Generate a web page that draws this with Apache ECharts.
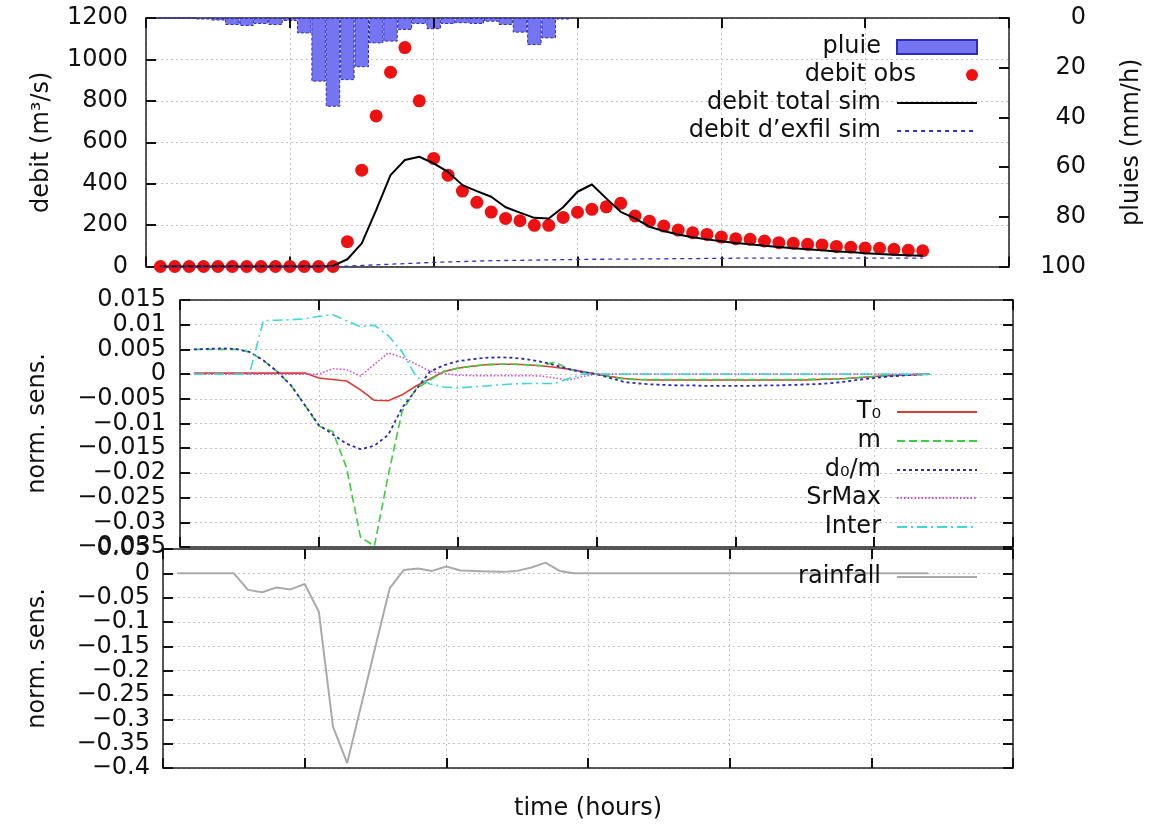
<!DOCTYPE html>
<html>
<head>
  <meta charset="utf-8">
  <script src="https://cdn.jsdelivr.net/npm/echarts@6/dist/echarts.min.js"></script>
  <style>
    html, body { margin: 0; padding: 0; background: #fff; }
  </style>
</head>
<body>
  <div id="id_chart" style="width: 1152px; height: 827px;"></div>

  <script type="text/javascript">
    // pas de temps (heures)
    var steps = [1, 2, 3, 4, 5, 6, 7, 8, 9, 10, 11, 12, 13, 14, 15, 16, 17, 18,
      19, 20, 21, 22, 23, 24, 25, 26, 27, 28, 29, 30, 31, 32, 33, 34, 35, 36,
      37, 38, 39, 40, 41, 42, 43, 44, 45, 46, 47, 48, 49, 50, 51, 52, 53, 54];

    // panneau 1 : debits (m3/s) et pluie (mm/h)
    var debitObs = [0, 0, 0, 0, 0, 0, 0, 0, 0, 0, 0, 0, 0,
      120, 465, 727, 938, 1057, 800, 522, 441, 364, 310,
      263, 232, 221, 199, 199, 237, 262, 276, 288, 305,
      244, 219, 195, 176, 163, 155, 142, 134, 131, 123,
      115, 112, 107, 104, 97, 93, 89, 88, 83, 78, 76];
    var debitSim = [0, 0, 0, 0, 0, 0, 0, 0, 0, 0, 0, 0, 3,
      35, 112, 272, 441, 514, 530, 498, 457, 393, 364,
      337, 286, 260, 235, 232, 286, 361, 396, 329, 264,
      232, 192, 171, 155, 141, 131, 122, 113, 107, 100,
      94, 88, 83, 78, 73, 70, 64, 60, 57, 54, 52];
    var debitExfil = [0, 0, 0, 0, 0, 0, 0, 0, 0, 0, 0, 0, 0,
      2, 5, 8, 11, 14, 17, 20, 22, 24, 26,
      28, 29, 30, 31, 32, 33, 34, 35, 35, 36,
      36, 37, 37, 38, 38, 39, 39, 40, 40, 40,
      40, 40, 40, 40, 40, 40, 40, 40, 40, 40, 40];
    var pluie = [0, 0, 0, 0.6, 1, 2.8, 3.2, 2.4, 2.8, 1.2, 6.2, 25.6, 35.7, 25,
      19.8, 10.2, 9.5, 4.8, 2.4, 4.5, 2.4, 2.1, 2.4, 1.5, 2.8, 5.9, 10.9, 8.2, 0.6];

    // panneau 2 : sensibilites normalisees
    var sensT0 = [0.0002, 0.0002, 0.0002, 0.0002, 0.0002, 0.0002, 0.0002, 0.0002, 0.0002,
      -0.0008, -0.0011, -0.0014, -0.0032, -0.0053, -0.0054, -0.0042, -0.0024, -0.0010,
      0.0005, 0.0012, 0.0016, 0.0019, 0.0020, 0.0020, 0.0019, 0.0017, 0.0014, 0.0010, 0.0005, 0,
      -0.0005, -0.0009, -0.0011,
      -0.0012, -0.0012, -0.0012, -0.0012, -0.0012, -0.0012, -0.0012, -0.0012, -0.0012, -0.0012, -0.0012, -0.0012,
      -0.0011, -0.0010, -0.0009, -0.0007, -0.0005, -0.0003, -0.0002, -0.0001, 0];
    var sensM = [0.005, 0.005, 0.005, 0.005,
      0.0045, 0.0028, 0.0005, -0.0023, -0.0063, -0.0105, -0.0116, -0.0190, -0.0330, -0.0348, -0.0205, -0.0075, -0.0030, -0.0012,
      0.0005, 0.0012, 0.0016, 0.0019, 0.0020, 0.0020, 0.0019, 0.0017, 0.0024, 0.0010, 0.0004, 0,
      -0.0006, -0.0010, -0.0011,
      -0.0011, -0.0011, -0.0011, -0.0011, -0.0011, -0.0011, -0.0011, -0.0011, -0.0011, -0.0011, -0.0011, -0.0011,
      -0.0010, -0.0010, -0.0009, -0.0007, -0.0005, -0.0003, -0.0002, -0.0001, 0];
    var sensD0m = [0.0050, 0.0051, 0.0052, 0.0051,
      0.0045, 0.0028, 0.0005, -0.0023, -0.0063, -0.0103, -0.0122, -0.0141, -0.0152, -0.0145, -0.0123, -0.0068, -0.0032, 0.0005,
      0.0018, 0.0026, 0.0030, 0.0033, 0.0034, 0.0033, 0.0030, 0.0025, 0.0018, 0.0010, 0.0004, 0,
      -0.0008, -0.0016, -0.0019,
      -0.0021, -0.0022, -0.0023, -0.0023, -0.0024, -0.0024, -0.0024, -0.0024, -0.0023, -0.0023, -0.0022, -0.0021,
      -0.0020, -0.0018, -0.0015, -0.0011, -0.0008, -0.0005, -0.0003, -0.0001, 0];
    var sensSrMax = [0, 0, 0, 0, 0, 0, 0, 0, 0, 0,
      0.0011, 0.0009, -0.0004, 0.0020, 0.0043, 0.0034, 0.0020, 0.0006, 0.0001, -0.0002,
      -0.0003, -0.0003, -0.0003, -0.0003, -0.0003, -0.0004, -0.0008, -0.0012, -0.0005, 0,
      0, 0, 0, 0, 0, 0, 0, 0, 0, 0, 0, 0, 0, 0, 0, 0, 0, 0, 0, 0, 0, 0, 0, 0];
    var sensInter = [0, 0, 0, 0, 0,
      0.0108, 0.0109, 0.0110, 0.0112, 0.0117, 0.0120, 0.0108, 0.0096, 0.0099, 0.0078, 0.0045, -0.0005,
      -0.0020, -0.0026, -0.0028, -0.0026, -0.0024, -0.0022, -0.0020, -0.0019, -0.0019, -0.0019, -0.0009, 0,
      0, 0, 0, 0, 0, 0, 0, 0, 0, 0, 0, 0, 0, 0, 0, 0, 0, 0, 0, 0, 0, 0, 0, 0, 0];

    // panneau 3 : sensibilite a la pluie
    var sensRain = [0, 0, 0, 0, 0,
      -0.034, -0.039, -0.029, -0.033, -0.022, -0.079, -0.315, -0.39, -0.27, -0.15, -0.031,
      0.007, 0.010, 0.005, 0.014, 0.006, 0.005, 0.004, 0.003, 0.005, 0.012, 0.022, 0.005, 0,
      0, 0, 0, 0, 0, 0, 0, 0, 0, 0, 0, 0, 0, 0, 0, 0, 0, 0, 0, 0, 0, 0, 0, 0, 0];

    $main();

    function pairs(vals) {
      var out = [];
      for (var i = 0; i < vals.length; i++) {
        out.push([steps[i], vals[i]]);
      }
      return out;
    }

    function $main() {
      var myChart = echarts.init(document.getElementById('id_chart'));
      var FONT = 'DejaVu Sans';
      var txt = { color: '#111', fontFamily: FONT };
      var gridLine = { show: true, lineStyle: { color: '#c4c4c4', type: [2, 3], width: 1 } };
      var border = { show: true, onZero: false, lineStyle: { color: '#222', width: 1.5 } };
      var tick = { show: true, inside: true, length: 10, lineStyle: { color: '#111', width: 2 } };
      var off = { show: false };
      var grids = [
        { left: 146, right: 139, top: 18, height: 248.5 },
        { left: 180, right: 139, top: 300, height: 247 },
        { left: 163, right: 139, top: 549, height: 219 }
      ];
      var stepPx = (1152 - 146 - 139) / 60;

      function minus(s) { return s.replace('-', '\u2212'); }

      // axes x : bas, miroir en haut, et un axe cache pour la grille (sous les graduations)
      var xAxes = [];
      for (var g = 0; g < 3; g++) {
        xAxes.push({
          type: 'value', gridIndex: g, min: 0, max: 60, interval: 10, position: 'bottom', z: 1,
          axisLine: border, axisTick: tick, axisLabel: off, splitLine: off,
          name: g === 2 ? 'time (hours)' : '', nameLocation: 'middle', nameGap: 29,
          nameTextStyle: { color: '#111', fontFamily: FONT, fontSize: 24 }
        });
        xAxes.push({
          type: 'value', gridIndex: g, min: 0, max: 60, interval: 10, position: 'top', z: 1,
          axisLine: border, axisTick: tick, axisLabel: off, splitLine: off
        });
        xAxes.push({
          type: 'value', gridIndex: g, min: 0, max: 60, interval: 10, position: 'bottom', z: 0,
          axisLine: off, axisTick: off, axisLabel: off, splitLine: gridLine
        });
      }

      function gridY(g, min, max, interval) {
        return {
          type: 'value', gridIndex: g, min: min, max: max, interval: interval, position: 'left', z: 0,
          axisLine: off, axisTick: off, axisLabel: off, splitLine: gridLine
        };
      }

      var yAxes = [
        {
          type: 'value', gridIndex: 0, min: 0, max: 1200, interval: 200, position: 'left', z: 1,
          axisLine: border, axisTick: tick, splitLine: off,
          axisLabel: Object.assign({
            fontSize: 24, margin: 18,
            formatter: function (v) { return String(v); }
          }, txt),
          name: 'debit (m\u00b3/s)', nameLocation: 'middle', nameRotate: 90, nameGap: 92,
          nameTextStyle: Object.assign({ fontSize: 24 }, txt)
        },
        {
          type: 'value', gridIndex: 0, min: 0, max: 100, interval: 20, position: 'right', inverse: true, z: 1,
          axisLine: border, axisTick: tick, splitLine: off,
          axisLabel: Object.assign({ fontSize: 24, margin: 77, align: 'right' }, txt),
          name: 'pluies (mm/h)', nameLocation: 'middle', nameRotate: 90, nameGap: 111,
          nameTextStyle: Object.assign({ fontSize: 24 }, txt)
        },
        gridY(0, 0, 1200, 200),
        {
          type: 'value', gridIndex: 1, min: -0.035, max: 0.015, interval: 0.005, position: 'left', z: 1,
          axisLine: border, axisTick: tick, splitLine: off,
          axisLabel: Object.assign({
            fontSize: 24, lineHeight: 20, margin: 14, showMinLabel: true, showMaxLabel: true, hideOverlap: false,
            formatter: function (v) { return minus(String(+v.toFixed(3))); }
          }, txt),
          name: 'norm. sens.', nameLocation: 'middle', nameRotate: 90, nameGap: 130,
          nameTextStyle: Object.assign({ fontSize: 24 }, txt)
        },
        {
          type: 'value', gridIndex: 1, min: -0.035, max: 0.015, interval: 0.005, position: 'right', z: 1,
          axisLine: border, axisTick: tick, splitLine: off, axisLabel: off
        },
        gridY(1, -0.035, 0.015, 0.005),
        {
          type: 'value', gridIndex: 2, min: -0.4, max: 0.05, interval: 0.05, position: 'left', z: 1,
          axisLine: border, axisTick: tick, splitLine: off,
          axisLabel: Object.assign({
            fontSize: 24, lineHeight: 20, margin: 13, showMinLabel: true, showMaxLabel: true, hideOverlap: false,
            formatter: function (v) { return minus(String(+v.toFixed(2))); }
          }, txt),
          name: 'norm. sens.', nameLocation: 'middle', nameRotate: 90, nameGap: 113,
          nameTextStyle: Object.assign({ fontSize: 24 }, txt)
        },
        {
          type: 'value', gridIndex: 2, min: -0.4, max: 0.05, interval: 0.05, position: 'right', z: 1,
          axisLine: border, axisTick: tick, splitLine: off, axisLabel: off
        },
        gridY(2, -0.4, 0.05, 0.05)
      ];

      // legendes : une par ligne, icone a droite du texte
      function leg(name, cy, h, extra) {
        return Object.assign({
          data: [name], right: 174, top: cy - 9, padding: 0, orient: 'vertical', align: 'right',
          itemWidth: 80, itemHeight: h, selectedMode: false,
          textStyle: { color: '#111', fontFamily: FONT, fontSize: 24, padding: [0, 11, 0, 0] }
        }, extra || {});
      }
      // les lignes : pas de symbole dans l'icone
      var noSym = { itemStyle: { opacity: 0 } };
      var legends = [
        leg('pluie', 44, 14, { icon: 'rect' }),
        leg('debit obs', 72, 12),
        leg('debit total sim', 100, 12, noSym),
        leg('debit d\u2019exfil sim', 128, 12, noSym),
        leg('T\u2080', 409, 12, noSym),
        leg('m', 438, 12, noSym),
        leg('d\u2080/m', 467, 12, noSym),
        leg('SrMax', 495, 12, noSym),
        leg('Inter', 524, 12, noSym),
        leg('rainfall', 574, 12, noSym)
      ];

      function sensLine(name, vals, color, type, width) {
        return {
          name: name, type: 'line', xAxisIndex: 3, yAxisIndex: 3, data: pairs(vals),
          symbol: 'none', lineStyle: { color: color, type: type, width: width || 1.5 },
          itemStyle: { color: color }, z: 3
        };
      }

      var option = {
        backgroundColor: '#fff',
        animation: false,
        grid: grids,
        xAxis: xAxes,
        yAxis: yAxes,
        legend: legends,
        series: [
          {
            name: 'pluie', type: 'bar', xAxisIndex: 0, yAxisIndex: 1, data: pairs(pluie),
            barWidth: stepPx,
            itemStyle: { color: '#7575f2', borderColor: '#2c2cb8', borderWidth: 1, borderType: [3, 2] },
            z: 1
          },
          {
            name: 'debit obs', type: 'scatter', xAxisIndex: 0, yAxisIndex: 0, data: pairs(debitObs),
            symbolSize: 13, itemStyle: { color: '#ee1111', opacity: 1 }, z: 2
          },
          {
            name: 'debit total sim', type: 'line', xAxisIndex: 0, yAxisIndex: 0, data: pairs(debitSim),
            symbol: 'none', lineStyle: { color: '#000', width: 2 }, itemStyle: { color: '#000' }, z: 3
          },
          {
            name: 'debit d\u2019exfil sim', type: 'line', xAxisIndex: 0, yAxisIndex: 0, data: pairs(debitExfil),
            symbol: 'none', lineStyle: { color: '#3030cc', width: 1.3, type: [4, 4] },
            itemStyle: { color: '#3030cc' }, z: 3
          },
          sensLine('T\u2080', sensT0, '#dd3b30', 'solid', 1.6),
          sensLine('m', sensM, '#3ccf3c', [8, 4], 1.6),
          sensLine('d\u2080/m', sensD0m, '#2a2ab8', [3, 3], 1.8),
          sensLine('SrMax', sensSrMax, '#d845d8', [1.5, 2], 1.6),
          sensLine('Inter', sensInter, '#3ed8d8', [10, 4, 2, 4], 1.6),
          {
            name: 'rainfall', type: 'line', xAxisIndex: 6, yAxisIndex: 6, data: pairs(sensRain),
            symbol: 'none', lineStyle: { color: '#aaaaaa', width: 2 }, itemStyle: { color: '#aaaaaa' }, z: 2
          }
        ]
      };
      myChart.setOption(option);
    }
  </script>
</body>
</html>
